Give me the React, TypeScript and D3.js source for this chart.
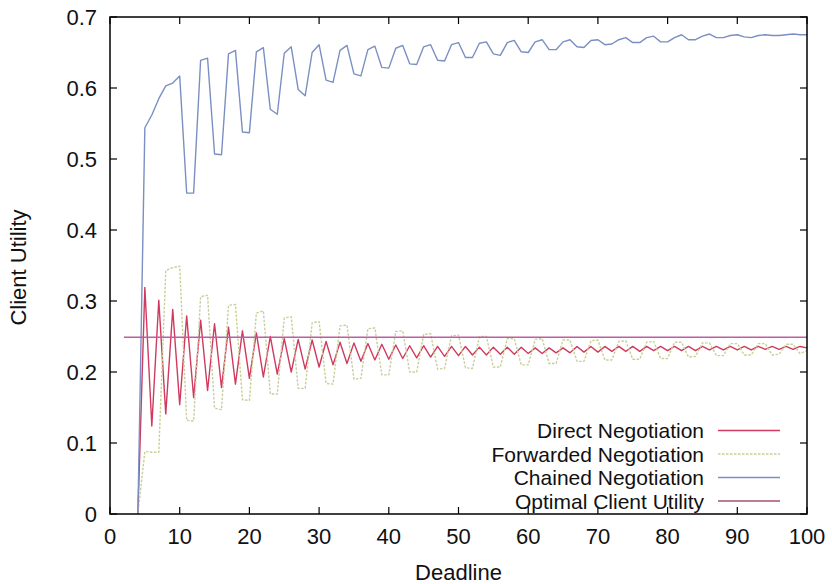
import React from "react";
import * as d3 from "d3";

// Deadlines 4..100
const deadlines: number[] = d3.range(4, 101);

const directValues: number[] = [
  0, 0.319, 0.124, 0.301, 0.141, 0.288, 0.154, 0.279, 0.164, 0.273,
  0.174, 0.268, 0.178, 0.263, 0.183, 0.258, 0.191, 0.255, 0.193, 0.25,
  0.197, 0.247, 0.2, 0.246, 0.204, 0.245, 0.207, 0.243, 0.21, 0.242,
  0.212, 0.241, 0.215, 0.24, 0.217, 0.239, 0.218, 0.238, 0.219, 0.237,
  0.22, 0.237, 0.221, 0.236, 0.222, 0.236, 0.223, 0.236, 0.224, 0.235,
  0.224, 0.235, 0.225, 0.235, 0.225, 0.235, 0.226, 0.234, 0.226, 0.234,
  0.227, 0.234, 0.227, 0.236, 0.228, 0.236, 0.228, 0.236, 0.229, 0.236,
  0.229, 0.236, 0.229, 0.236, 0.23, 0.236, 0.23, 0.236, 0.23, 0.236,
  0.23, 0.236, 0.231, 0.236, 0.231, 0.236, 0.231, 0.236, 0.231, 0.236,
  0.232, 0.236, 0.232, 0.236, 0.232, 0.236, 0.234,
];

const forwardedValues: number[] = [
  0, 0.088, 0.087, 0.087, 0.343, 0.347, 0.349, 0.132, 0.131, 0.306,
  0.308, 0.149, 0.147, 0.294, 0.295, 0.161, 0.16, 0.283, 0.286, 0.169,
  0.169, 0.276, 0.278, 0.177, 0.177, 0.269, 0.271, 0.184, 0.183, 0.265,
  0.266, 0.19, 0.191, 0.261, 0.262, 0.196, 0.196, 0.257, 0.258, 0.2,
  0.2, 0.253, 0.254, 0.204, 0.205, 0.251, 0.252, 0.206, 0.205, 0.25,
  0.25, 0.207, 0.207, 0.247, 0.247, 0.21, 0.21, 0.246, 0.247, 0.212,
  0.212, 0.245, 0.245, 0.215, 0.215, 0.244, 0.245, 0.217, 0.217, 0.243,
  0.244, 0.218, 0.218, 0.242, 0.243, 0.219, 0.219, 0.242, 0.242, 0.221,
  0.222, 0.241, 0.241, 0.223, 0.223, 0.24, 0.24, 0.224, 0.224, 0.24,
  0.24, 0.224, 0.225, 0.239, 0.239, 0.226, 0.23,
];

const chainedValues: number[] = [
  0, 0.544, 0.562, 0.585, 0.603, 0.607, 0.617, 0.452, 0.452, 0.639,
  0.642, 0.507, 0.506, 0.648, 0.653, 0.538, 0.537, 0.651, 0.657, 0.57,
  0.563, 0.649, 0.658, 0.598, 0.589, 0.65, 0.661, 0.611, 0.608, 0.653,
  0.66, 0.62, 0.617, 0.654, 0.659, 0.629, 0.628, 0.656, 0.66, 0.634,
  0.633, 0.658, 0.661, 0.639, 0.638, 0.661, 0.664, 0.643, 0.643, 0.663,
  0.665, 0.648, 0.646, 0.664, 0.667, 0.651, 0.65, 0.665, 0.668, 0.654,
  0.654, 0.665, 0.668, 0.658, 0.657, 0.667, 0.668, 0.661, 0.662, 0.668,
  0.671, 0.664, 0.664, 0.671, 0.673, 0.665, 0.665, 0.671, 0.675, 0.668,
  0.668, 0.673, 0.676, 0.671, 0.671, 0.674, 0.675, 0.672, 0.671, 0.674,
  0.675, 0.674, 0.674, 0.675, 0.676, 0.675, 0.675,
];

const optimalDeadlines: number[] = [2, 100];
const optimalValues: number[] = [0.249, 0.249];

const xTicks: number[] = [0, 10, 20, 30, 40, 50, 60, 70, 80, 90, 100];
const yTicks: number[] = [0, 0.1, 0.2, 0.3, 0.4, 0.5, 0.6, 0.7];

const legendLabels: string[] = [
  "Direct Negotiation",
  "Forwarded Negotiation",
  "Chained Negotiation",
  "Optimal Client Utility",
];

const W = 832;
const H = 584;
const M = { left: 110, right: 807, top: 17, bottom: 514 };
const FONT = "'Liberation Sans', Arial, Helvetica, sans-serif";

const COLORS = {
  direct: "#cf3a5e",
  forwarded: "#c8cf98",
  chained: "#7a8fc2",
  optimal: "#c05ca2",
};

export default function App() {
  const x = d3.scaleLinear().domain([0, 100]).range([M.left, M.right]);
  const y = d3.scaleLinear().domain([0, 0.7]).range([M.bottom, M.top]);

  const line = d3
    .line<[number, number]>()
    .x((d) => x(d[0]))
    .y((d) => y(d[1]));

  const pts = (vals: number[]) =>
    deadlines.map((d, i) => [d, vals[i]] as [number, number]);
  const optPts = optimalDeadlines.map(
    (d, i) => [d, optimalValues[i]] as [number, number]
  );

  const series = [
    { key: "direct", d: line(pts(directValues)), color: COLORS.direct, dash: undefined },
    { key: "forwarded", d: line(pts(forwardedValues)), color: COLORS.forwarded, dash: "2.5,1.5" },
    { key: "chained", d: line(pts(chainedValues)), color: COLORS.chained, dash: undefined },
    { key: "optimal", d: line(optPts), color: COLORS.optimal, dash: undefined },
  ];

  const legendColors = [COLORS.direct, COLORS.forwarded, COLORS.chained, "#a8506e"];
  const legendDash = [undefined, "2.5,1.5", undefined, undefined];
  const tick = 7;

  return (
    <svg
      width={W}
      height={H}
      style={{ position: "absolute", left: 0, top: 0, background: "#fff" }}
      fontFamily={FONT}
    >
      <rect x={0} y={0} width={W} height={H} fill="#fff" />
      {series.map((s) => (
        <path
          key={s.key}
          d={s.d || ""}
          fill="none"
          stroke={s.color}
          strokeWidth={1.4}
          strokeDasharray={s.dash}
          strokeLinejoin="round"
        />
      ))}
      <rect
        x={M.left}
        y={M.top}
        width={M.right - M.left}
        height={M.bottom - M.top}
        fill="none"
        stroke="#000"
        strokeWidth={1.5}
      />
      {xTicks.map((t) => (
        <g key={"x" + t}>
          <line x1={x(t)} x2={x(t)} y1={M.bottom} y2={M.bottom - tick} stroke="#000" strokeWidth={1.2} />
          <line x1={x(t)} x2={x(t)} y1={M.top} y2={M.top + tick} stroke="#000" strokeWidth={1.2} />
          <text x={x(t)} y={544} textAnchor="middle" fontSize={22} fill="#111">
            {t}
          </text>
        </g>
      ))}
      {yTicks.map((t) => (
        <g key={"y" + t}>
          <line x1={M.left} x2={M.left + tick} y1={y(t)} y2={y(t)} stroke="#000" strokeWidth={1.2} />
          <line x1={M.right} x2={M.right - tick} y1={y(t)} y2={y(t)} stroke="#000" strokeWidth={1.2} />
          <text x={97} y={y(t) + 8} textAnchor="end" fontSize={22} fill="#111">
            {t === 0 ? "0" : t.toFixed(1)}
          </text>
        </g>
      ))}
      <text x={(M.left + M.right) / 2} y={580} textAnchor="middle" fontSize={22} fill="#111">
        Deadline
      </text>
      <text
        transform={`translate(26, ${(M.top + M.bottom) / 2 + 2}) rotate(-90)`}
        textAnchor="middle"
        fontSize={22}
        fill="#111"
      >
        Client Utility
      </text>
      {legendLabels.map((lab, i) => {
        const base = 438 + i * 23.5;
        return (
          <g key={lab}>
            <text x={704} y={base} textAnchor="end" fontSize={21} fill="#111">
              {lab}
            </text>
            <line
              x1={718}
              x2={780}
              y1={base - 7.5}
              y2={base - 7.5}
              stroke={legendColors[i]}
              strokeWidth={1.4}
              strokeDasharray={legendDash[i]}
            />
          </g>
        );
      })}
    </svg>
  );
}
